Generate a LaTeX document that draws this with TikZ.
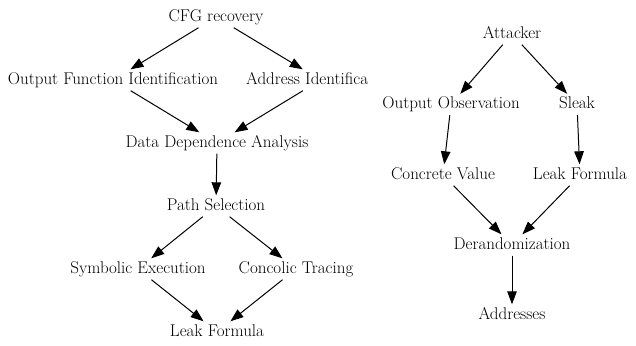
\documentclass[tikz,border=0pt]{standalone}
\usetikzlibrary{arrows.meta}
\begin{document}
\begin{tikzpicture}[x=1bp,y=-1bp,
  lbl/.style={inner xsep=2bp, inner ysep=2.5bp, text height=12bp, text depth=4bp,
    font=\rmfamily\fontsize{17bp}{20bp}\selectfont, anchor=base},
  edge/.style={-{Triangle[length=13bp,width=9.5bp]}, line width=1bp}]
\useasboundingbox (0,0) rectangle (636,345);
% left graph
\node[lbl] (cfg) at (216,21) {CFG recovery};
\node[lbl] (ofi) at (113,84) {Output Function Identification};
\node[lbl] (adr) at (320.5,84) {Address Identifica\phantom{tion}};
\node[lbl] (dda) at (217,147) {Data Dependence Analysis};
\node[lbl] (ps) at (216,210) {Path Selection};
\node[lbl] (se) at (138,273) {Symbolic Execution};
\node[lbl] (ct) at (296,273) {Concolic Tracing};
\node[lbl] (lfa) at (217,336) {Leak Formula};
\draw[edge] (cfg) -- (ofi);
\draw[edge] (cfg) -- (adr);
\draw[edge] (ofi) -- (dda);
\draw[edge] (adr) -- (dda);
\draw[edge] (dda) -- (ps);
\draw[edge] (ps) -- (se);
\draw[edge] (ps) -- (ct);
\draw[edge] (se) -- (lfa);
\draw[edge] (ct) -- (lfa);
% right graph
\node[lbl] (att) at (512,38) {Attacker};
\node[lbl] (oo) at (451,108.5) {Output Observation};
\node[lbl] (sl) at (577,108.5) {Sleak};
\node[lbl] (cv) at (443,179) {Concrete Value};
\node[lbl] (lfb) at (580,179) {Leak Formula};
\node[lbl] (der) at (512,249) {Derandomization};
\node[lbl] (adds) at (512,319) {Addresses};
\draw[edge] (att) -- (oo);
\draw[edge] (att) -- (sl);
\draw[edge] (oo) -- (cv);
\draw[edge] (sl) -- (lfb);
\draw[edge] (cv) -- (der);
\draw[edge] (lfb) -- (der);
\draw[edge] (der) -- (adds);
\end{tikzpicture}
\end{document}
